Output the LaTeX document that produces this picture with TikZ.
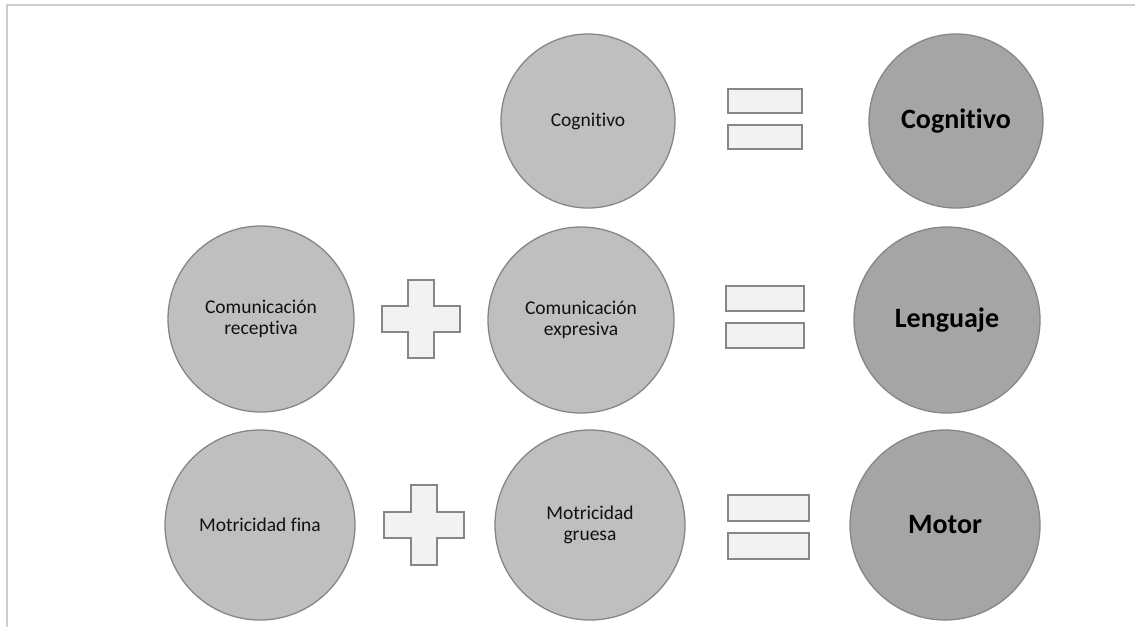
\documentclass[tikz,border=0pt]{standalone}
\usepackage{fontspec}
\setmainfont{Carlito}[Ligatures=NoCommon]
\definecolor{lightfill}{HTML}{BFBFBF}
\definecolor{darkfill}{HTML}{A5A5A5}
\definecolor{edgegray}{HTML}{868686}
\definecolor{symfill}{HTML}{F2F2F2}
\definecolor{framegray}{HTML}{CDCDCD}
\definecolor{txt}{HTML}{111111}
\begin{document}
\begin{tikzpicture}[x=1pt,y=-1pt,
  lightcirc/.style={circle,draw=edgegray,line width=1.3pt,fill=lightfill,inner sep=0pt,align=center,text=txt,font=\fontsize{19.5}{21.5}\selectfont},
  darkcirc/.style={circle,draw=edgegray,line width=1.3pt,fill=darkfill,inner sep=0pt,text=black,font=\fontsize{28}{32}\selectfont\bfseries},
  bar/.style={rectangle,draw=edgegray,line width=1.3pt,fill=symfill,inner sep=0pt},
  plusshape/.style={draw=edgegray,line width=1.3pt,fill=symfill}]
\useasboundingbox (0,0) rectangle (1135,627);
% frame
\coordinate (fbl) at (7,627);
\coordinate (ftl) at (7,5);
\coordinate (ftr) at (1135,5);
\draw[framegray,line width=2pt] (fbl) -- (ftl) -- (ftr);
% row 1
\node[lightcirc,minimum size=174pt] (cogA) at (588,121) {Cognitivo};
\node[bar,minimum width=74pt,minimum height=24pt] (eq1a) at (765,101) {};
\node[bar,minimum width=74pt,minimum height=24pt] (eq1b) at (765,137) {};
\node[darkcirc,minimum size=174pt] (cogB) at (956,121) {Cognitivo};
% row 2
\node[lightcirc,minimum size=186pt] (recep) at (261,319) {Comunicación\\receptiva};
\begin{scope}[shift={(421,319)}]
\draw[plusshape] (-13,-39) -- (13,-39) -- (13,-13) -- (39,-13) -- (39,13) -- (13,13) -- (13,39) -- (-13,39) -- (-13,13) -- (-39,13) -- (-39,-13) -- (-13,-13) -- cycle;
\end{scope}
\node[lightcirc,minimum size=186pt] (expr) at (581,320) {Comunicación\\expresiva};
\node[bar,minimum width=78pt,minimum height=25pt] (eq2a) at (765,298.5) {};
\node[bar,minimum width=78pt,minimum height=25pt] (eq2b) at (765,335.5) {};
\node[darkcirc,minimum size=186pt] (leng) at (947,320) {Lenguaje};
% row 3
\node[lightcirc,minimum size=190pt] (fina) at (260,525) {Motricidad fina};
\begin{scope}[shift={(424,525)}]
\draw[plusshape] (-13,-40) -- (13,-40) -- (13,-13) -- (40,-13) -- (40,13) -- (13,13) -- (13,40) -- (-13,40) -- (-13,13) -- (-40,13) -- (-40,-13) -- (-13,-13) -- cycle;
\end{scope}
\node[lightcirc,minimum size=190pt] (grue) at (590,525) {Motricidad\\gruesa};
\node[bar,minimum width=81pt,minimum height=26pt] (eq3a) at (768.5,508) {};
\node[bar,minimum width=81pt,minimum height=26pt] (eq3b) at (768.5,546) {};
\node[darkcirc,minimum size=190pt] (motor) at (945,525) {Motor};
\end{tikzpicture}
\end{document}
